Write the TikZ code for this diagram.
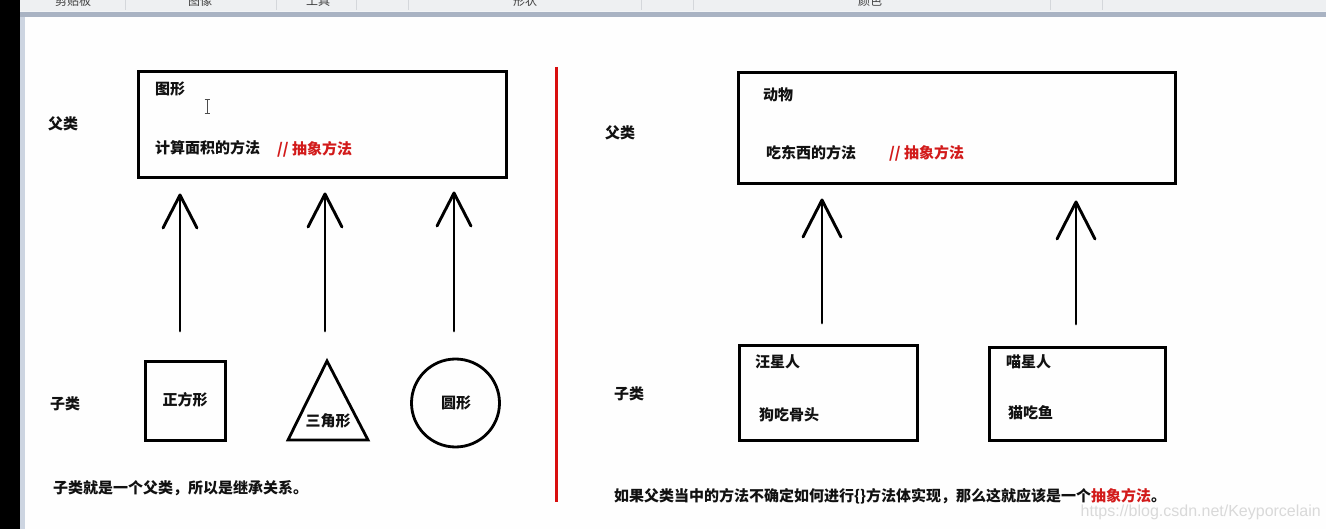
\documentclass[tikz,border=0pt]{standalone}
\usepackage{fontspec}
\newfontfamily\cjk{Noto Sans CJK SC}
\newfontfamily\wmfont{Liberation Sans}
\usetikzlibrary{calc}
\definecolor{redc}{HTML}{D21A1A}
\definecolor{linered}{HTML}{D80E0E}
\definecolor{toolbg}{HTML}{EEF0F2}
\definecolor{toolsep}{HTML}{D4D7DB}
\definecolor{barc}{HTML}{A9B3C3}
\definecolor{stripc}{HTML}{CDD5E1}
\definecolor{canvasc}{HTML}{FEFEFE}
\definecolor{inkc}{HTML}{111111}
\tikzset{
  box/.style={draw=black, line width=3pt, inner sep=0pt, outer sep=0pt, anchor=north west},
  lbl/.style={font=\cjk\bfseries\fontsize{15}{16}\selectfont, text=inkc, inner sep=0pt, anchor=west},
  rlbl/.style={lbl, text=redc},
  clbl/.style={lbl, anchor=center},
  arr/.style={line width=2.9pt, line cap=round, line join=round},
  shapeline/.style={line width=2.8pt, line join=miter},
  tooltext/.style={font=\cjk\fontsize{12}{13}\selectfont, text=black!75, inner sep=0pt},
}
\newcommand\inharrow[4]{%
  \draw[arr] (#1) -- (#2);
  \draw[arr] ($(#2)+(-#3,#4)$) -- (#2) -- ($(#2)+(#3,#4)$);}
\begin{document}
\begin{tikzpicture}[x=1pt,y=-1pt]
\useasboundingbox (0,0) rectangle (1326,529);
% background: canvas, window chrome
\fill[canvasc] (0,0) rectangle (1326,529);
\fill[toolbg] (20,0) rectangle (1326,11);
\foreach \sx in {125,276,356,408,641,693,1050,1102}
  \draw[toolsep, line width=1pt] (\sx,0) -- (\sx,10);
\begin{scope}
  \clip (20,0) rectangle (1326,10);
  \node[tooltext] (t1) at (73,1) {剪贴板};
  \node[tooltext] (t2) at (200,1) {图像};
  \node[tooltext] (t3) at (318,1) {工具};
  \node[tooltext] (t4) at (525,1) {形状};
  \node[tooltext] (t5) at (870,1) {颜色};
\end{scope}
\fill[white!85!barc] (20,11) rectangle (1326,12);
\fill[barc] (20,12) rectangle (1326,17);
\fill[black] (0,0) rectangle (20,529);
\fill[stripc] (20,17) rectangle (25,529);

% ---------- left half ----------
\node[lbl] (fuL) at (48,124) {父类};
\node[box, minimum width=368pt, minimum height=106pt] (shape) at (138.5,71.5) {};
\node[lbl] (shapeT) at (155,89) {图形};
\node[lbl] (shapeM) at (155,148) {计算面积的方法};
\node[rlbl] (shapeA) at (277,149) {// 抽象方法};
% I-beam cursor
\draw[black!70, line width=1pt] (207,100) -- (207,114) (204.5,100) -- (209.5,100) (204.5,114) -- (209.5,114);

\node[lbl] (ziL) at (50,404) {子类};
\node[box, minimum width=80pt, minimum height=79pt] (sq) at (145.5,361.5) {};
\node[clbl] (sqT) at (185,400) {正方形};
\coordinate (triA) at (327,361);
\coordinate (triL) at (288,440);
\coordinate (triR) at (368,440);
\draw[shapeline] (triA) -- (triR) -- (triL) -- cycle;
\node[clbl] (triT) at (328,421) {三角形};
\node[draw, circle, shapeline, minimum size=88pt, inner sep=0pt, outer sep=0pt] (circ) at (455.5,403) {};
\node[clbl] (circT) at (456,403) {圆形};

\coordinate (a1b) at (180,331); \coordinate (a1t) at (180,195);
\coordinate (a2b) at (325,331); \coordinate (a2t) at (325,194);
\coordinate (a3b) at (454,331); \coordinate (a3t) at (454,193);
\inharrow{a1b}{a1t}{17}{33}
\inharrow{a2b}{a2t}{17}{33}
\inharrow{a3b}{a3t}{17}{33}

\node[lbl] (noteL) at (53,488) {子类就是一个父类，所以是继承关系。};

% divider
\draw[linered, line width=3pt] (556.5,67) -- (556.5,502);

% ---------- right half ----------
\node[lbl] (fuR) at (605,133) {父类};
\node[box, minimum width=437pt, minimum height=111pt] (animal) at (738.5,72.5) {};
\node[lbl] (animalT) at (763,95) {动物};
\node[lbl] (animalM) at (766,153) {吃东西的方法};
\node[rlbl] (animalA) at (889,153) {// 抽象方法};

\node[lbl] (ziR) at (614,394) {子类};
\node[box, minimum width=178pt, minimum height=95pt] (dog) at (739.5,345.5) {};
\node[lbl] (dogT) at (755,362) {汪星人};
\node[lbl] (dogM) at (759,415) {狗吃骨头};
\node[box, minimum width=176pt, minimum height=93pt] (cat) at (989.5,347.5) {};
\node[lbl] (catT) at (1006,362) {喵星人};
\node[lbl] (catM) at (1008,413) {猫吃鱼};

\coordinate (a4b) at (822,323); \coordinate (a4t) at (822,200);
\coordinate (a5b) at (1076,324); \coordinate (a5t) at (1076,202);
\inharrow{a4b}{a4t}{19}{37}
\inharrow{a5b}{a5t}{19}{37}

\node[lbl] (noteR) at (614,496) {如果父类当中的方法不确定如何进行\{\}方法体实现，那么这就应该是一个\textcolor{redc}{抽象方法}。};

\node[font=\wmfont\fontsize{16}{17}\selectfont, text=black!15, inner sep=0pt, anchor=east] (wm) at (1321,512) {https://blog.csdn.net/Keyporcelain};
\end{tikzpicture}
\end{document}
